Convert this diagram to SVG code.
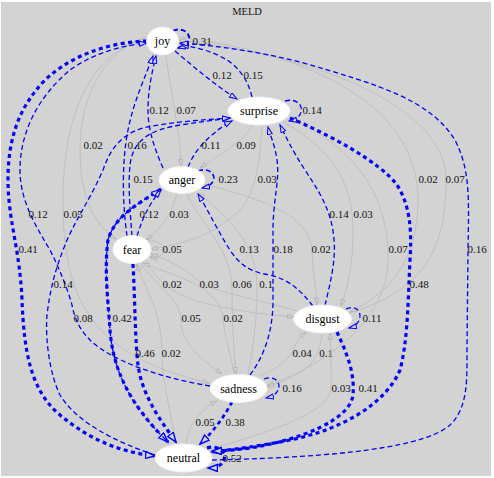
<svg xmlns="http://www.w3.org/2000/svg" width="494" height="478" viewBox="0 0 494 478">
<style>
.bg{fill:#d3d3d3}
.nd{fill:#fff;stroke:#f2f2f2;stroke-width:1}
.nt{font-family:"Liberation Serif","Times New Roman",serif;font-size:12px;fill:#000;text-anchor:middle}
.lb{font-family:"Liberation Serif","Times New Roman",serif;font-size:11px;fill:#111;text-anchor:middle}
.ttl{font-family:"Liberation Serif","Times New Roman",serif;font-size:10.5px;fill:#111;text-anchor:middle}
.g{fill:none;stroke:#bababa;stroke-width:0.8;marker-end:url(#ag)}
.b{fill:none;stroke:#0000ff;stroke-width:1.3;stroke-dasharray:5,3;marker-end:url(#ab)}
.m{fill:none;stroke:#0000ff;stroke-width:2;stroke-dasharray:5,3;marker-end:url(#ab)}
.t{fill:none;stroke:#0000ff;stroke-width:3.2;stroke-dasharray:4,3.5;marker-end:url(#at)}
</style>
<defs>
<marker id="ab" markerUnits="userSpaceOnUse" markerWidth="10" markerHeight="8" refX="8" refY="3" orient="auto"><path d="M0.5,0.5 L8,3 L0.5,5.5 z" fill="#d3d3d3" stroke="#0000ff" stroke-width="1"/></marker>
<marker id="at" markerUnits="userSpaceOnUse" markerWidth="12" markerHeight="10" refX="10" refY="4" orient="auto"><path d="M0.5,0.5 L10,4 L0.5,7.5 z" fill="#d3d3d3" stroke="#0000ff" stroke-width="1.4"/></marker>
<marker id="ag" markerUnits="userSpaceOnUse" markerWidth="9" markerHeight="7" refX="7" refY="2.5" orient="auto"><path d="M0.5,0.5 L7,2.5 L0.5,4.5 z" fill="#d3d3d3" stroke="#b0b0b0" stroke-width="0.8"/></marker>
</defs>
<rect width="494" height="478" fill="#ffffff"/>
<rect class="bg" x="1" y="2" width="490" height="474"/>
<text class="ttl" x="247" y="15">MELD</text>
<g id="connectors">
<g id="e-joy-anger"><path class="g" d="M166,55 C170,90 180,130 181,166"/><text class="lb" x="186" y="114">0.07</text></g>
<g id="e-joy-fear"><path class="g" d="M149,37 C110,45 80,90 80,150 C80,200 95,225 116,239"/><text class="lb" x="93" y="149">0.02</text></g>
<g id="e-joy-sadness"><path class="g" d="M148,38 C100,48 63,100 63,200 C63,300 90,355 209,383"/><text class="lb" x="73" y="218">0.05</text></g>
<g id="e-joy-disgust"><path class="g" d="M178,37 C300,52 418,100 418,200 C418,265 385,295 350,312"/><text class="lb" x="428" y="183">0.02</text></g>
<g id="e-disgust-joy"><path class="g" d="M347,314 C425,290 446,250 446,180 C446,110 330,58 179,40"/><text class="lb" x="455" y="183">0.07</text></g>
<g id="e-surprise-anger"><path class="g" d="M252,125 C245,142 218,155 200,168"/><text class="lb" x="246" y="149">0.09</text></g>
<g id="e-surprise-fear"><path class="g" d="M262,125 C260,155 258,190 240,210 C215,235 180,245 151,249"/><text class="lb" x="267" y="183">0.03</text></g>
<g id="e-surprise-disgust"><path class="g" d="M283,122 C330,148 353,180 353,230 C353,270 346,292 341,306"/><text class="lb" x="363" y="218">0.03</text></g>
<g id="e-surprise-sadness"><path class="g" d="M289,117 C360,150 389,200 388,260 C387,320 330,362 267,386"/><text class="lb" x="398" y="253">0.07</text></g>
<g id="e-anger-fear"><path class="g" d="M177,193 C172,215 160,230 146,240"/><text class="lb" x="179" y="218">0.03</text></g>
<g id="e-anger-disgust"><path class="g" d="M203,184 C260,198 310,215 312,250 C313,275 316,290 317,305"/><text class="lb" x="321" y="253">0.02</text></g>
<g id="e-anger-sadness"><path class="g" d="M186,193 C205,230 232,250 232,290 C232,330 234,350 236,374"/><text class="lb" x="242" y="288">0.06</text></g>
<g id="e-sadness-anger"><path class="g" d="M248,375 C255,340 257,310 257,284 C256,240 222,212 198,193"/><text class="lb" x="266" y="288">0.1</text></g>
<g id="e-fear-fear"><path class="g" d="M148,242 C165,236 170,262 150,257"/><text class="lb" x="172" y="253">0.05</text></g>
<g id="e-fear-disgust"><path class="g" d="M145,259 C155,278 168,292 200,302 C240,312 270,315 294,317"/><text class="lb" x="172" y="288">0.02</text></g>
<g id="e-disgust-fear"><path class="g" d="M297,311 C260,300 215,292 200,282 C185,268 168,260 151,254"/><text class="lb" x="209" y="288">0.03</text></g>
<g id="e-fear-sadness"><path class="g" d="M140,263 C160,290 181,300 181,320 C181,345 205,362 222,374"/><text class="lb" x="191" y="322">0.05</text></g>
<g id="e-sadness-fear"><path class="g" d="M234,374 C230,350 224,335 223,318 C220,285 170,275 143,263"/><text class="lb" x="233" y="322">0.02</text></g>
<g id="e-disgust-sadness"><path class="g" d="M322,333 C321,348 315,362 303,371 C290,378 280,383 267,387"/><text class="lb" x="326" y="357">0.1</text></g>
<g id="e-sadness-disgust"><path class="g" d="M259,376 C280,368 290,358 293,350 C296,342 300,337 306,332"/><text class="lb" x="302" y="357">0.04</text></g>
<g id="e-neutral-fear"><path class="g" d="M176,444 C170,410 162,380 162,353 C162,310 142,282 137,264"/><text class="lb" x="171" y="357">0.02</text></g>
<g id="e-neutral-disgust"><path class="g" d="M206,450 C280,430 331,410 331,388 C331,365 331,350 330,333"/><text class="lb" x="341" y="392">0.03</text></g>
<g id="e-neutral-sadness"><path class="g" d="M186,444 C188,425 200,410 217,401"/><text class="lb" x="205" y="426">0.05</text></g>

<g id="e-joy-joy"><path class="m" d="M173,31 C188,24 198,44 178,48"/><text class="lb" x="202" y="45">0.31</text></g>
<g id="e-joy-surprise"><path class="b" d="M175,51 C195,68 215,85 237,99"/><text class="lb" x="222" y="79">0.12</text></g>
<g id="e-surprise-joy"><path class="b" d="M252,97 C248,80 240,70 230,62 C215,52 200,48 181,45"/><text class="lb" x="253" y="79">0.15</text></g>
<g id="e-neutral-joy"><path class="b" d="M212,460 C300,458 420,452 450,425 C468,408 467,380 467,350 L468,250 C469,195 470,170 455,140 C430,100 380,85 300,62 C260,52 220,46 180,43"/><text class="lb" x="477" y="253">0.16</text></g>
<g id="e-joy-neutral"><path class="t" d="M147,41 C115,42 75,52 45,80 C18,108 8,140 8,180 C8,220 20,250 22,300 C24,350 30,390 60,415 C90,440 120,452 155,456"/><text class="lb" x="28" y="253">0.41</text></g>
<g id="e-surprise-surprise"><path class="b" d="M285,101 C304,96 308,118 289,121"/><text class="lb" x="312" y="114">0.14</text></g>
<g id="e-surprise-neutral"><path class="t" d="M290,118 C330,135 380,162 397,185 C410,205 412,230 410,260 C408,300 408,340 400,370 C385,405 340,430 290,440 C260,446 230,450 212,452"/><text class="lb" x="419" y="288">0.48</text></g>
<g id="e-anger-anger"><path class="m" style="stroke-width:1.6" d="M198,171 C214,165 222,184 202,188"/><text class="lb" x="228" y="183">0.23</text></g>
<g id="e-anger-joy"><path class="b" d="M163,168 C155,150 148,130 148,110 C148,90 152,72 156,56"/><text class="lb" x="159" y="114">0.12</text></g>
<g id="e-anger-surprise"><path class="b" d="M188,167 C193,155 200,145 212,135 C220,128 226,124 232,121"/><text class="lb" x="211" y="149">0.11</text></g>
<g id="e-anger-neutral"><path class="t" d="M161,189 C140,203 115,215 108,240 C104,270 108,300 110,330 C113,370 130,405 168,442"/><text class="lb" x="122" y="322">0.42</text></g>
<g id="e-fear-joy"><path class="b" d="M127,236 C122,200 122,160 128,130 C134,100 146,75 153,56"/><text class="lb" x="137" y="149">0.16</text></g>
<g id="e-fear-surprise"><path class="b" d="M132,236 C130,210 128,185 130,165 C133,140 150,130 180,125 C200,122 215,120 230,118"/><text class="lb" x="143" y="183">0.15</text></g>
<g id="e-fear-anger"><path class="b" d="M137,236 C142,220 148,205 161,190"/><text class="lb" x="149" y="218">0.12</text></g>
<g id="e-fear-neutral"><path class="t" d="M133,264 C135,300 135,340 138,365 C142,395 160,420 176,442"/><text class="lb" x="145" y="357">0.46</text></g>
<g id="e-disgust-disgust"><path class="b" d="M346,309 C362,302 366,324 349,328"/><text class="lb" x="372" y="322">0.11</text></g>
<g id="e-disgust-surprise"><path class="b" d="M325,305 C330,285 336,260 334,240 C332,210 318,190 305,170 C292,150 285,135 280,125"/><text class="lb" x="339" y="218">0.14</text></g>
<g id="e-sadness-surprise"><path class="b" d="M250,375 C265,355 273,330 273,300 L273,230 C273,200 280,180 277,160 C275,145 270,135 268,127"/><text class="lb" x="283" y="253">0.18</text></g>
<g id="e-disgust-anger"><path class="b" d="M313,306 C300,290 290,280 270,275 C250,272 240,265 230,250 C220,235 208,210 198,194"/><text class="lb" x="249" y="253">0.13</text></g>
<g id="e-disgust-neutral"><path class="t" d="M337,332 C345,350 355,370 353,395 C350,420 300,440 250,448 C235,450 222,451 212,451"/><text class="lb" x="368" y="392">0.41</text></g>
<g id="e-sadness-sadness"><path class="b" d="M264,379 C281,373 286,394 266,398"/><text class="lb" x="292" y="392">0.16</text></g>
<g id="e-sadness-joy"><path class="b" d="M210,386 C160,378 110,360 90,340 C80,330 75,320 72,305 C68,290 60,270 50,250 C35,225 20,200 20,170 C20,130 40,95 70,70 C95,52 125,45 147,43"/><text class="lb" x="38" y="218">0.12</text></g>
<g id="e-sadness-neutral"><path class="t" style="stroke-width:2.7" d="M232,402 C225,415 215,430 200,444"/><text class="lb" x="235" y="426">0.38</text></g>
<g id="e-neutral-neutral"><path class="t" d="M207,448 C226,442 234,468 208,468"/><text class="lb" x="232" y="462">0.52</text></g>
<g id="e-neutral-surprise"><path class="b" d="M155,455 C110,440 75,420 60,395 C50,375 45,340 47,315 C50,290 55,270 65,245 C75,220 90,200 103,170 C110,150 120,135 143,128 C170,122 200,120 230,118"/><text class="lb" x="63" y="288">0.14</text></g>
<g id="e-neutral-anger"><path class="b" d="M166,440 C130,405 113,370 110,330 C108,300 104,270 108,240 C115,215 140,203 159,190"/><text class="lb" x="83" y="322">0.08</text></g>
</g>
<g id="n-joy"><ellipse class="nd" cx="162.5" cy="41" rx="16" ry="14"/><text class="nt" x="162.5" y="45">joy</text></g>
<g id="n-surprise"><ellipse class="nd" cx="259" cy="111" rx="31" ry="14"/><text class="nt" x="259" y="115">surprise</text></g>
<g id="n-anger"><ellipse class="nd" cx="182" cy="180" rx="23" ry="13.5"/><text class="nt" x="182" y="184">anger</text></g>
<g id="n-fear"><ellipse class="nd" cx="132" cy="249.5" rx="19" ry="14"/><text class="nt" x="132" y="253.5">fear</text></g>
<g id="n-disgust"><ellipse class="nd" cx="322.5" cy="319" rx="29" ry="14"/><text class="nt" x="322.5" y="323">disgust</text></g>
<g id="n-sadness"><ellipse class="nd" cx="238.5" cy="388.5" rx="28.5" ry="14"/><text class="nt" x="238.5" y="392.5">sadness</text></g>
<g id="n-neutral"><ellipse class="nd" cx="183.5" cy="458" rx="28.5" ry="14"/><text class="nt" x="183.5" y="462">neutral</text></g>
</svg>
